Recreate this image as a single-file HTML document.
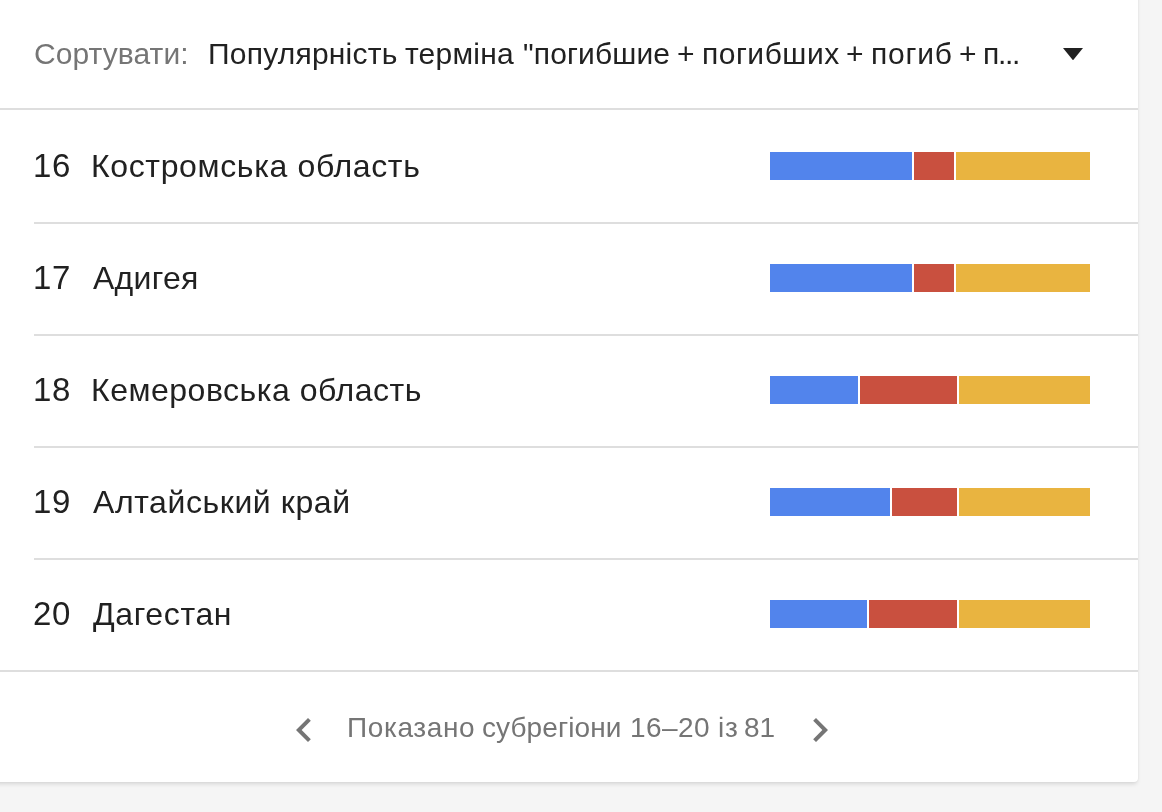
<!DOCTYPE html>
<html lang="uk">
<head>
<meta charset="utf-8">
<title>Subregions</title>
<style>
  html, body { margin: 0; padding: 0; }
  body {
    width: 1162px; height: 812px; overflow: hidden; position: relative;
    background: #f5f5f5;
    font-family: "Liberation Sans", Arial, sans-serif;
  }
  .card {
    position: absolute; left: -10px; top: -10px; width: 1148px; height: 792px;
    background: #fff; border-radius: 4px;
    box-shadow: 0 3px 4px -1px rgba(0,0,0,.13), 0 0 2px 0 rgba(0,0,0,.05);
  }
  .t { position: absolute; white-space: nowrap; line-height: 40px; will-change: transform; }
  .hdr-label { left: 33.9px; top: 33.5px; font-size: 30px; letter-spacing: 0.078px; color: #757575; }
  .hw { top: 33.5px; font-size: 30px; color: #212121; }
  .arrow { position: absolute; left: 1063px; top: 47.8px; width: 20px; height: 12.3px; }
  .line { position: absolute; height: 2px; background: #dedede; }
  .num { left: 33px; font-size: 33px; letter-spacing: 0.6px; color: #212121; margin-top: 0.3px; }
  .name { left: 91.4px; font-size: 32px; letter-spacing: 0.6px; color: #212121; }
  .bar { position: absolute; height: 28px; }
  .b { background: #5284ec; }
  .r { background: #c9503f; }
  .y { background: #e9b440; }
  .foot { top: 708.2px; font-size: 28px; color: #757575; }
  .chev { position: absolute; top: 706px; width: 48px; height: 48px; }
</style>
</head>
<body>
<div class="card"></div>

<div class="t hdr-label">Сортувати:</div>
<div class="hv"><span class="t hw" style="left:207.5px;letter-spacing:0.218px">Популярність</span><span class="t hw" style="left:404.6px;letter-spacing:0.217px">терміна</span><span class="t hw" style="left:522.7px;letter-spacing:0.125px">"погибшие</span><span class="t hw" style="left:677.4px;letter-spacing:0px">+</span><span class="t hw" style="left:701.5px;letter-spacing:0.5px">погибших</span><span class="t hw" style="left:846.2px;letter-spacing:0px">+</span><span class="t hw" style="left:870.8px;letter-spacing:0.8px">погиб</span><span class="t hw" style="left:959.0px;letter-spacing:0px">+</span><span class="t hw" style="left:983.4px;letter-spacing:-1.333px">п...</span></div>
<svg class="arrow" viewBox="0 0 20 12.3" preserveAspectRatio="none"><polygon points="0,0 20,0 10,12.3" fill="#212121"/></svg>
<div class="line" style="left:0;top:108px;width:1138px"></div>

<!-- row 16 -->
<div class="t num" style="top:145.8px">16</div>
<div class="t name" style="top:145.8px;letter-spacing:0.644px">Костромська область</div>
<div class="bar b" style="left:770px;top:152px;width:142px"></div>
<div class="bar r" style="left:914px;top:152px;width:40px"></div>
<div class="bar y" style="left:956px;top:152px;width:134px"></div>
<div class="line" style="left:34px;top:222px;width:1104px"></div>

<!-- row 17 -->
<div class="t num" style="top:257.8px">17</div>
<div class="t name" style="top:257.8px;left:92.6px;letter-spacing:0.28px">Адигея</div>
<div class="bar b" style="left:770px;top:264px;width:142px"></div>
<div class="bar r" style="left:914px;top:264px;width:40px"></div>
<div class="bar y" style="left:956px;top:264px;width:134px"></div>
<div class="line" style="left:34px;top:334px;width:1104px"></div>

<!-- row 18 -->
<div class="t num" style="top:369.8px">18</div>
<div class="t name" style="top:369.8px;letter-spacing:0.517px">Кемеровська область</div>
<div class="bar b" style="left:770px;top:376px;width:88px"></div>
<div class="bar r" style="left:860px;top:376px;width:97px"></div>
<div class="bar y" style="left:959px;top:376px;width:131px"></div>
<div class="line" style="left:34px;top:446px;width:1104px"></div>

<!-- row 19 -->
<div class="t num" style="top:481.8px">19</div>
<div class="t name" style="top:481.8px;left:92.6px;letter-spacing:0.593px">Алтайський край</div>
<div class="bar b" style="left:770px;top:488px;width:120px"></div>
<div class="bar r" style="left:892px;top:488px;width:65px"></div>
<div class="bar y" style="left:959px;top:488px;width:131px"></div>
<div class="line" style="left:34px;top:558px;width:1104px"></div>

<!-- row 20 -->
<div class="t num" style="top:593.8px">20</div>
<div class="t name" style="top:593.8px;left:92.7px;letter-spacing:0.643px">Дагестан</div>
<div class="bar b" style="left:770px;top:600px;width:97px"></div>
<div class="bar r" style="left:869px;top:600px;width:88px"></div>
<div class="bar y" style="left:959px;top:600px;width:131px"></div>
<div class="line" style="left:0;top:670px;width:1138px"></div>

<!-- footer -->
<svg class="chev" style="left:280px" viewBox="0 0 24 24"><path d="M15.41 7.41L14 6l-6 6 6 6 1.41-1.41L10.83 12z" fill="#757575"/></svg>
<div class="fv"><span class="t foot" style="left:347.0px;letter-spacing:0.614px">Показано</span><span class="t foot" style="left:482.4px;letter-spacing:0.078px">субрегіони</span><span class="t foot" style="left:629.8px;letter-spacing:0.4px">16–20</span><span class="t foot" style="left:717.55px;letter-spacing:0.8px">із</span><span class="t foot" style="left:743.5px;letter-spacing:0px">81</span></div>
<svg class="chev" style="left:796px" viewBox="0 0 24 24"><path d="M10 6L8.59 7.41 13.17 12l-4.58 4.59L10 18l6-6z" fill="#757575"/></svg>
</body>
</html>
